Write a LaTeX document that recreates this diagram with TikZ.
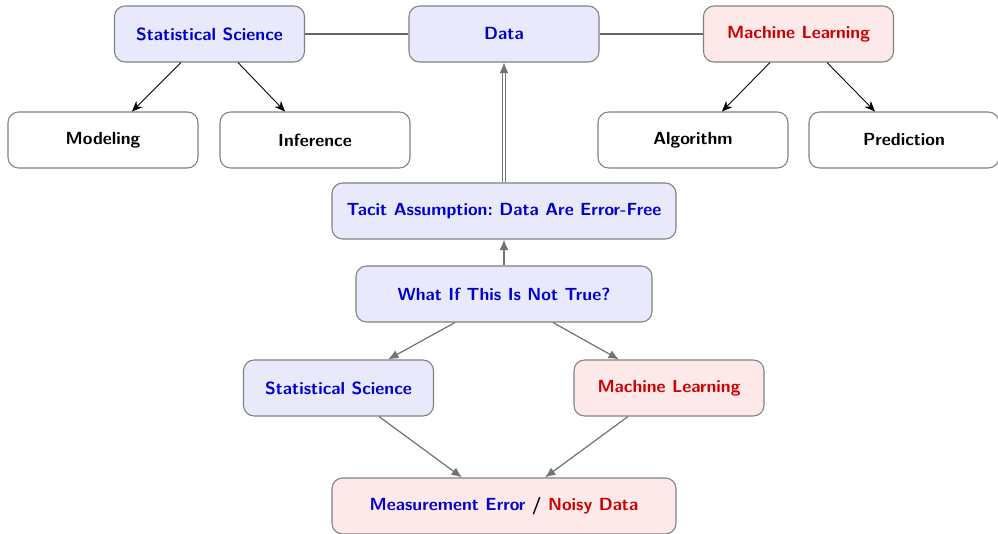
\documentclass[tikz,border=0pt]{standalone}
\usepackage{tikz}
\usetikzlibrary{positioning}
\usetikzlibrary{arrows.meta}
\usepackage{amsmath}
\definecolor{txtblue}{RGB}{0,0,204}
\definecolor{txtred}{RGB}{204,0,0}
\definecolor{fillblue}{RGB}{232,233,251}
\definecolor{fillred}{RGB}{253,233,233}

\begin{document}
\begin{tikzpicture}[
    box/.style={draw=black!50, rounded corners=6pt, line width=0.6pt,
        minimum width=3.8cm, minimum height=1.12cm,
        font=\sffamily\bfseries},
    bluebox/.style={box, fill=fillblue, text=txtblue},
    redbox/.style={box, fill=fillred, text=txtred},
    plainbox/.style={box, fill=white, text=black},
    link/.style={draw=black!60, line width=1.1pt},
    branch/.style={-{Stealth[length=6pt,width=5pt]}, black, line width=0.5pt},
    flow/.style={-{Latex[length=6pt,width=5pt]}, black!55, line width=0.7pt}
]
    \useasboundingbox (-10.08,0.68) rectangle (9.88,-10.0);

    % top row
    \node[bluebox] (ssTop) at (-5.89, 0) {Statistical Science};
    \node[bluebox] (data) at (0, 0) {Data};
    \node[redbox] (mlTop) at (5.89, 0) {Machine Learning};

    \draw[link] (ssTop) -- (data);
    \draw[link] (data) -- (mlTop);

    % what each side works on
    \node[plainbox] (modeling) at (-8.02, -2.12) {Modeling};
    \node[plainbox] (inference) at (-3.78, -2.12) {Inference};
    \node[plainbox] (algorithm) at (3.78, -2.12) {Algorithm};
    \node[plainbox] (prediction) at (8.0, -2.12) {Prediction};

    \draw[branch] ([xshift=-0.57cm]ssTop.south) -- ([xshift=0.58cm]modeling.north);
    \draw[branch] ([xshift=0.57cm]ssTop.south) -- ([xshift=-0.6cm]inference.north);
    \draw[branch] ([xshift=-0.57cm]mlTop.south) -- ([xshift=0.58cm]algorithm.north);
    \draw[branch] ([xshift=0.57cm]mlTop.south) -- ([xshift=-0.58cm]prediction.north);

    % the assumption and the question
    \node[bluebox, minimum width=6.88cm] (tacit) at (0, -3.54)
        {Tacit Assumption:\ Data Are Error-Free};
    \node[bluebox, minimum width=5.92cm] (whatif) at (0, -5.2)
        {What If This Is Not True?};

    \draw[flow, double=white, double distance=1.6pt, line width=0.6pt] (tacit) -- (data);
    \draw[flow] (whatif) -- (tacit);

    % both fields lead to the same problem
    \node[bluebox] (ssLow) at (-3.31, -7.08) {Statistical Science};
    \node[redbox] (mlLow) at (3.3, -7.08) {Machine Learning};
    \node[redbox, minimum width=6.88cm] (meas) at (0, -9.44)
        {\textcolor{txtblue}{Measurement Error} \textcolor{black}{/} Noisy Data};

    \draw[flow] ([xshift=-0.98cm]whatif.south) -- ([xshift=0.99cm]ssLow.north);
    \draw[flow] ([xshift=0.98cm]whatif.south) -- ([xshift=-1.0cm]mlLow.north);
    \draw[flow] ([xshift=0.81cm]ssLow.south) -- ([xshift=-0.84cm]meas.north);
    \draw[flow] ([xshift=-0.82cm]mlLow.south) -- ([xshift=0.82cm]meas.north);
\end{tikzpicture}
\end{document}
